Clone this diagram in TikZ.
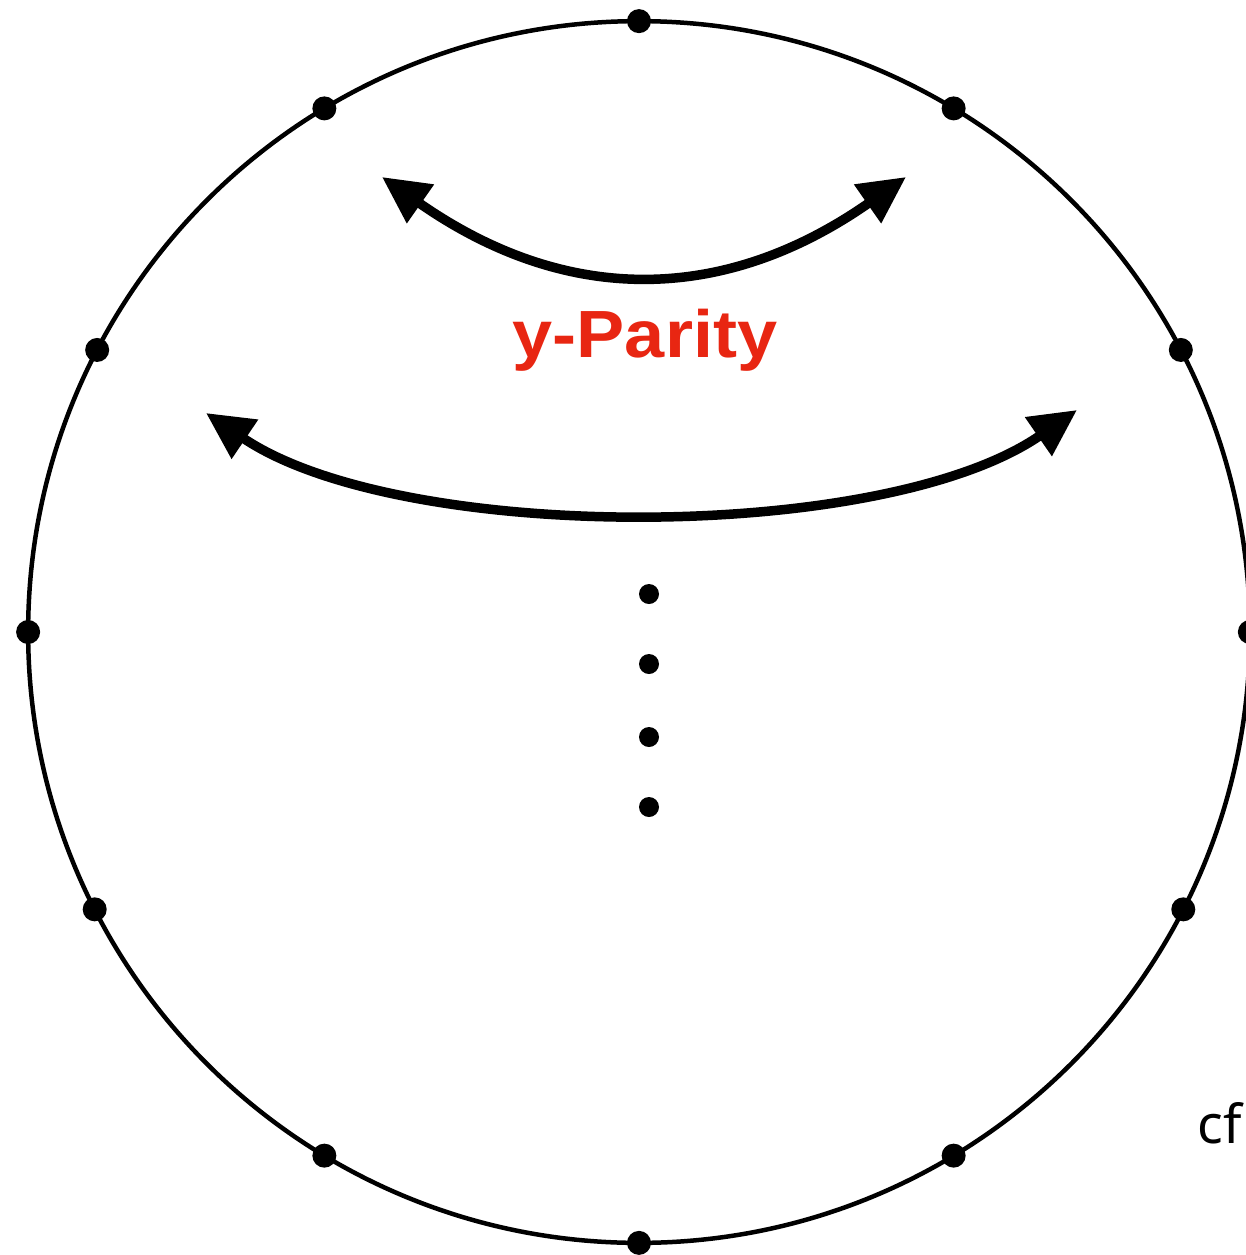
\documentclass[tikz,border=0pt]{standalone}
\usepackage{fontspec}
\usepackage{graphicx}
\setmainfont{Noto Sans}
\newfontfamily\paritysans{Liberation Sans}
\usetikzlibrary{arrows.meta}
\definecolor{parityred}{RGB}{232,38,18}
\begin{document}
\begin{tikzpicture}[x=0.02cm,y=-0.02cm,
  rim/.style={line width=0.09cm},
  rimdot/.style={circle,fill=black,inner sep=0pt,minimum size=0.48cm},
  vdot/.style={circle,fill=black,inner sep=0pt,minimum size=0.4cm},
  swing/.style={line width=0.19cm,{Triangle[length=0.94cm,width=0.9cm]}-{Triangle[length=0.94cm,width=0.9cm]}},
  lbl/.style={text=parityred,font=\paritysans\fontsize{38}{40}\selectfont\bfseries,inner sep=0pt,anchor=base},
  note/.style={font=\fontsize{30.5}{32}\selectfont,inner sep=0pt,anchor=base west}]
\useasboundingbox (0,0) rectangle (1245,1255);
\coordinate (c) at (639,632);
\draw[rim] (c) circle[radius=12.22cm];
\foreach \a/\n in {0/r0,27.5/r1,59/r2,90/r3,121/r4,152.5/r5,180/r6,207/r7,239/r8,270/r9,301/r10,333/r11}{
  \node[rimdot] (\n) at ([shift={(\a:12.22cm)}]c) {};
}
\coordinate (ua) at (382,177);
\coordinate (ub) at (906,177);
\draw[swing] (ua) .. controls (565,305) and (723,305) .. (ub);
\coordinate (la) at (206,413);
\coordinate (lb) at (1077,410);
\draw[swing] (la) .. controls (400,544) and (883,544) .. (lb);
\node[lbl] (yp) at (645,357) {\scalebox{1.08}[1]{y-Parity}};
\node[vdot] (v1) at (649,594) {};
\node[vdot] (v2) at (649,664) {};
\node[vdot] (v3) at (649,737) {};
\node[vdot] (v4) at (649,807) {};
\node[note] (cf) at (1197,1143) {cf};
\end{tikzpicture}
\end{document}
